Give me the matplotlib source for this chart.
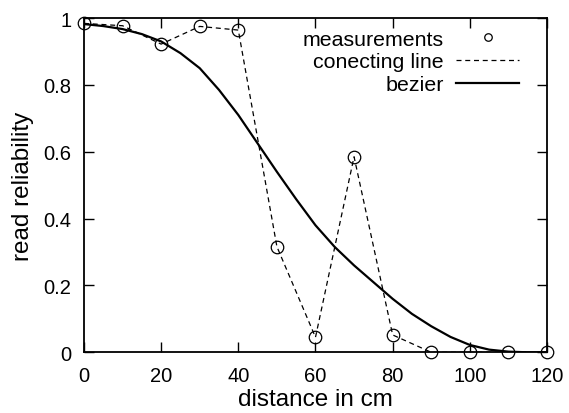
import matplotlib
matplotlib.use("Agg")
import matplotlib.pyplot as plt
from matplotlib.ticker import FuncFormatter

# measured read reliability
distance = [0, 10, 20, 30, 40, 50, 60, 70, 80, 90, 100, 110, 120]
reliability = [0.984, 0.977, 0.922, 0.975, 0.964, 0.316, 0.045, 0.585, 0.052, 0.0, 0.0, 0.0, 0.0]

# bezier curve
bez_x = [0, 5, 10, 15, 20, 25, 30, 35, 40, 45, 50, 55, 60,
         65, 70, 75, 80, 85, 90, 95, 100, 105, 110, 115, 120]
bez_y = [0.982, 0.976, 0.967, 0.952, 0.93, 0.895, 0.85, 0.785, 0.71, 0.625, 0.54, 0.458, 0.38,
         0.315, 0.26, 0.21, 0.16, 0.115, 0.078, 0.046, 0.022, 0.008, 0.002, 0.0, 0.0]

plt.rcParams["font.family"] = ["Liberation Sans", "DejaVu Sans"]

fig = plt.figure(figsize=(5.69, 4.14), dpi=100)
ax = fig.add_axes([0.1476, 0.1466, 0.8137, 0.8074])

ax.plot(distance, reliability, linestyle="none", marker="o", markersize=9,
        markerfacecolor="none", markeredgecolor="black", markeredgewidth=0.9,
        clip_on=False, zorder=4, label="measurements")
ax.plot(distance, reliability, color="black", linestyle=(0, (4, 3)), linewidth=0.9,
        label="conecting line")
ax.plot(bez_x, bez_y, color="black", linewidth=1.6, label="bezier")

ax.set_xlim(0, 120)
ax.set_ylim(0, 1)
ax.set_xticks([0, 20, 40, 60, 80, 100, 120])
ax.set_yticks([0, 0.2, 0.4, 0.6, 0.8, 1])
ax.yaxis.set_major_formatter(FuncFormatter(lambda v, p: "%g" % v))
ax.tick_params(direction="in", length=7, width=1, top=True, right=True,
               labelsize=14.5)
ax.tick_params(axis="x", pad=10)
ax.tick_params(axis="y", pad=9)
for s in ax.spines.values():
    s.set_linewidth(1.3)

ax.set_xlabel("distance in cm", fontsize=17.5, labelpad=2)
ax.set_ylabel("read reliability", fontsize=17.5, labelpad=7)

ax.legend(loc="upper right", frameon=False, markerfirst=False, fontsize=15.4,
          handlelength=2.95, labelspacing=0.17, handletextpad=0.56,
          markerscale=0.6, borderaxespad=0.0, borderpad=0.0,
          bbox_to_anchor=(0.94, 0.965))

fig.savefig("out.png", dpi=100)
